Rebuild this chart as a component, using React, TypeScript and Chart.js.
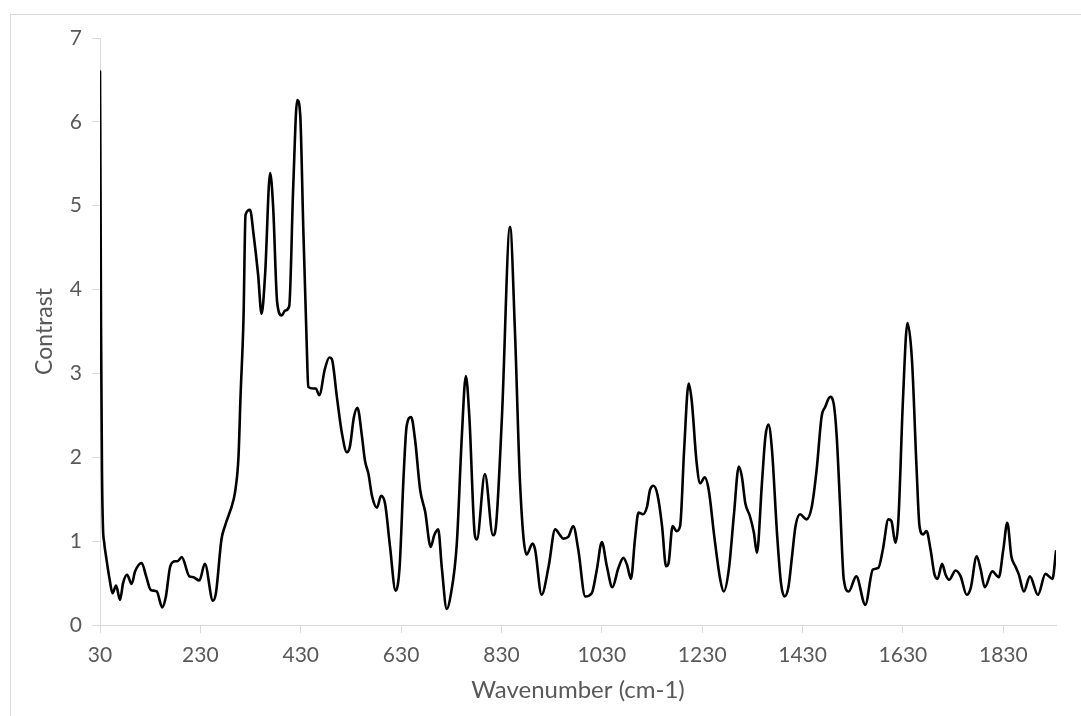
import React, { useEffect, useRef } from "react";
import { Chart, registerables } from "chart.js";

Chart.register(...registerables);

const wavenumbers = [
  30, 31, 32, 34, 36, 38, 43, 49, 55, 62, 70, 76, 84, 93, 100, 113, 122, 131, 143, 154,
  161, 170, 180, 184, 193, 208, 216, 228, 239, 255, 261, 272, 279, 296, 300, 306, 310, 316, 320, 329,
  336, 345, 352, 359, 369, 375, 383, 392, 399, 407, 415, 423, 429, 435, 442, 445, 455, 460, 467, 478,
  487, 492, 502, 512, 522, 528, 536, 543, 552, 558, 565, 572, 582, 590, 598, 608, 619, 627, 635, 641,
  650, 658, 668, 678, 689, 696, 704, 711, 721, 729, 741, 751, 759, 766, 777, 781, 797, 813, 819, 831,
  847, 857, 867, 880, 892, 897, 910, 924, 937, 947, 953, 963, 973, 983, 997, 1010, 1020, 1030, 1040, 1051,
  1063, 1073, 1080, 1088, 1096, 1103, 1112, 1120, 1126, 1133, 1141, 1150, 1158, 1163, 1171, 1179, 1186, 1194, 1203, 1209,
  1219, 1226, 1235, 1243, 1254, 1266, 1273, 1283, 1293, 1303, 1309, 1316, 1325, 1333, 1339, 1349, 1356, 1362, 1369, 1379,
  1387, 1394, 1402, 1409, 1416, 1425, 1438, 1448, 1458, 1468, 1475, 1485, 1492, 1498, 1505, 1512, 1522, 1537, 1555, 1570,
  1581, 1590, 1601, 1607, 1615, 1621, 1630, 1639, 1648, 1657, 1663, 1670, 1677, 1685, 1693, 1699, 1708, 1715, 1722, 1735,
  1745, 1757, 1765, 1777, 1785, 1793, 1808, 1821, 1830, 1838, 1846, 1854, 1861, 1871, 1883, 1899, 1914, 1928, 1935,
];

const contrast = [
  6.6, 5.2, 3.6, 1.8, 1.15, 1.0, 0.78, 0.55, 0.38, 0.47, 0.3, 0.5, 0.6, 0.49, 0.64, 0.74, 0.58, 0.42, 0.4, 0.21,
  0.33, 0.7, 0.76, 0.76, 0.81, 0.58, 0.57, 0.53, 0.73, 0.29, 0.38, 1.02, 1.18, 1.49, 1.62, 2.01, 2.72, 3.67, 4.89, 4.95,
  4.66, 4.18, 3.71, 4.18, 5.39, 4.99, 3.85, 3.69, 3.75, 3.8, 5.22, 6.26, 6.08, 4.75, 3.33, 2.84, 2.82, 2.82, 2.74, 3.05,
  3.19, 3.17, 2.72, 2.29, 2.06, 2.13, 2.48, 2.59, 2.25, 1.96, 1.8, 1.54, 1.4, 1.54, 1.45, 0.93, 0.41, 0.69, 1.78, 2.37,
  2.48, 2.2, 1.61, 1.35, 0.93, 1.07, 1.14, 0.69, 0.19, 0.36, 0.97, 2.25, 2.97, 2.48, 1.07, 1.02, 1.8, 1.07, 1.18, 2.49,
  4.75, 3.48, 1.69, 0.84, 0.97, 0.9, 0.36, 0.7, 1.14, 1.07, 1.03, 1.05, 1.18, 0.9, 0.34, 0.38, 0.66, 0.99, 0.7, 0.45,
  0.68, 0.8, 0.72, 0.55, 1.02, 1.34, 1.32, 1.41, 1.61, 1.66, 1.55, 1.18, 0.7, 0.74, 1.18, 1.12, 1.18, 2.09, 2.88, 2.68,
  1.93, 1.69, 1.76, 1.61, 1.06, 0.54, 0.4, 0.66, 1.3, 1.89, 1.77, 1.45, 1.3, 1.1, 0.86, 1.69, 2.25, 2.39, 2.09, 1.1,
  0.5, 0.34, 0.46, 0.82, 1.18, 1.32, 1.26, 1.4, 1.85, 2.49, 2.6, 2.72, 2.64, 2.25, 1.4, 0.55, 0.4, 0.58, 0.24, 0.66,
  0.68, 0.9, 1.26, 1.24, 0.98, 1.26, 2.68, 3.6, 3.16, 1.89, 1.18, 1.08, 1.12, 0.9, 0.6, 0.55, 0.73, 0.6, 0.54, 0.65,
  0.58, 0.36, 0.44, 0.82, 0.66, 0.45, 0.64, 0.57, 0.9, 1.22, 0.82, 0.7, 0.6, 0.4, 0.58, 0.36, 0.61, 0.55, 0.88,
];

const xTickValues = [30, 230, 430, 630, 830, 1030, 1230, 1430, 1630, 1830];
const yTickValues = [0, 1, 2, 3, 4, 5, 6, 7];

const X_MIN = 30;
const X_MAX = 1935;
const xTitle = "Wavenumber (cm-1)";
const yTitle = "Contrast";

const AXIS_GRAY = "#d9d9d9";
const TEXT_GRAY = "#595959";
const FONT = "Lato";

export default function App() {
  const ref = useRef<HTMLCanvasElement>(null);

  useEffect(() => {
    if (!ref.current) return;
    const chart = new Chart(ref.current, {
      type: "line",
      data: {
        datasets: [
          {
            data: wavenumbers.map((x, i) => ({ x, y: contrast[i] })),
            borderColor: "#000000",
            borderWidth: 2.6,
            pointRadius: 0,
            fill: false,
            cubicInterpolationMode: "monotone",
            borderJoinStyle: "round",
            borderCapStyle: "round",
          },
        ],
      },
      options: {
        responsive: false,
        animation: false,
        devicePixelRatio: 1,
        layout: { padding: { top: 38, right: 25, left: 0, bottom: 0 } },
        plugins: {
          legend: { display: false },
          tooltip: { enabled: false },
        },
        scales: {
          x: {
            type: "linear",
            min: X_MIN,
            max: X_MAX,
            afterBuildTicks: (s: any) => {
              s.ticks = xTickValues.map((v) => ({ value: v }));
            },
            afterFit: (s: any) => {
              s.height = 91;
            },
            grid: { drawOnChartArea: false, color: AXIS_GRAY, tickLength: 8, lineWidth: 1 },
            border: { color: AXIS_GRAY, width: 1 },
            ticks: {
              color: TEXT_GRAY,
              font: { family: FONT, size: 21 },
              padding: 10,
              maxRotation: 0,
              autoSkip: false,
              callback: (v: any) => String(v),
            },
            title: {
              display: true,
              text: xTitle,
              color: TEXT_GRAY,
              font: { family: FONT, size: 24 },
              padding: { top: 0, bottom: 11 },
            },
          },
          y: {
            type: "linear",
            min: 0,
            max: 7,
            afterBuildTicks: (s: any) => {
              s.ticks = yTickValues.map((v) => ({ value: v }));
            },
            afterFit: (s: any) => {
              s.width = 100;
            },
            grid: { drawOnChartArea: false, color: AXIS_GRAY, tickLength: 8, lineWidth: 1 },
            border: { color: AXIS_GRAY, width: 1 },
            ticks: {
              color: TEXT_GRAY,
              font: { family: FONT, size: 21 },
              padding: 10,
              callback: (v: any) => String(v),
            },
            title: {
              display: true,
              text: yTitle,
              color: TEXT_GRAY,
              font: { family: FONT, size: 23 },
              padding: { top: 31, bottom: 0 },
            },
          },
        },
      },
    });
    return () => chart.destroy();
  }, []);

  return (
    <div
      style={{
        position: "absolute",
        left: 0,
        top: 0,
        width: 1081,
        height: 716,
        overflow: "hidden",
        background: "#ffffff",
      }}
    >
      <div
        style={{
          position: "absolute",
          left: 10,
          top: 14,
          width: 1120,
          height: 760,
          border: `1px solid ${AXIS_GRAY}`,
        }}
      />
      <canvas
        ref={ref}
        width={1081}
        height={716}
        style={{ position: "absolute", left: 0, top: 0 }}
      />
    </div>
  );
}
